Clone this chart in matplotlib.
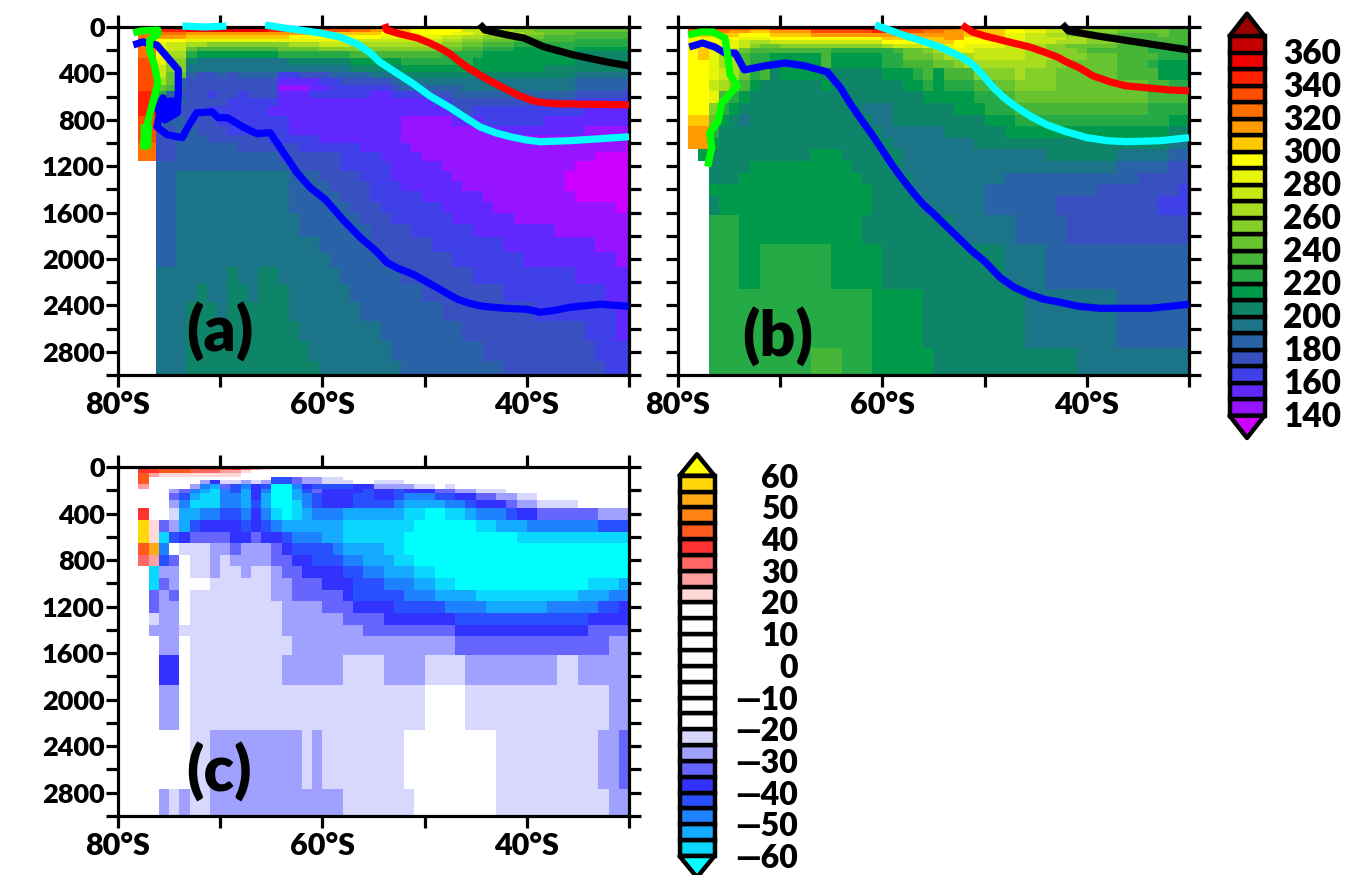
import re
import numpy as np
import matplotlib
matplotlib.use('Agg')
import matplotlib.pyplot as plt
from matplotlib.colors import ListedColormap, BoundaryNorm
from matplotlib.patches import Polygon

plt.rcParams['font.family'] = 'Lato'
plt.rcParams['font.weight'] = 'heavy'

# colour classes, coldest first (first and last are the triangles)
temp_bounds = np.arange(140, 380, 10)
temp_colors = ['#CC00FF', '#9614FF', '#6028FF', '#4040E8', '#3850C0', '#2A62A8', '#1C7488', '#0E8468',
               '#009A4B', '#25AA45', '#47B638', '#68C42E', '#85D028', '#A8DC1E', '#C8E814', '#E6F50A',
               '#FFFF00', '#FFC800', '#FF9A00', '#FF7000', '#FF4D00', '#FF2000', '#F00000', '#C40000', '#9B0000']
temp_labels = [360, 340, 320, 300, 280, 260, 240, 220, 200, 180, 160, 140]

diff_bounds = np.arange(-60, 65, 5)
diff_colors = ['#00FFFF', '#0AD8FF', '#14AAFF', '#1E82FF', '#2850FF', '#3232FF', '#6666FF', '#A0A0FF', '#D8D8FF',
               '#FFFFFF', '#FFFFFF', '#FFFFFF', '#FFFFFF', '#FFFFFF', '#FFFFFF', '#FFFFFF', '#FFFFFF',
               '#FFD8D8', '#FFA0A0', '#FF6666', '#FF3232', '#FF5A1E', '#FF8214', '#FFAA14', '#FFD70A', '#FFFF00']
diff_labels = [60, 50, 40, 30, 20, 10, 0, -10, -20, -30, -40, -50, -60]

# cell edges, depth in m and longitude in degrees (south negative)
a_depth = [0, 15, 40, 70, 100, 130, 170, 210, 270, 325, 385, 440, 500, 550, 610, 685, 770, 855, 930, 1000, 1077,
           1157, 1243, 1330, 1415, 1505, 1600, 1702, 1814, 1943, 2072, 2218, 2373, 2536, 2708, 2880, 3000]
bc_depth = [0, 25, 50, 85, 110, 145, 185, 225, 285, 355, 455, 555, 655, 755, 855, 955, 1055, 1155, 1255, 1355,
            1455, 1617, 1875, 2262, 2770, 3000]
a_lon = [-78] + list(np.arange(-76.3, -30, 1)) + [-30]
b_lon = list(range(-79, -29))
c_lon = list(range(-78, -29))

# fields, one string per depth band: class letter + column where that class stops
# a-y = <140, 140, 150 ... 360, >370
field_a = [
    "v2 w5 x13 w17 v20 u22 t24 s27 r29 q31 p33 o35 n38 m42 l48",
    "u1 v4 w12 v17 u20 t22 s24 r26 q31 o33 n36 m38 l48",
    "t4 s16 r23 q30 p32 o35 n37 m39 l42 k48",
    "t1 s4 r14 q23 p29 o31 n33 m36 l39 k48",
    "u1 q4 p20 o29 n31 m33 l36 k42 j48",
    "t1 p2 o4 n6 m14 n17 o20 n29 m31 l33 k36 j48",
    "t1 q2 o4 l5 k13 l17 m29 l31 k33 j36 i39 j42 i48",
    "t1 q2 n4 j5 i13 j20 k29 j33 i42 h48",
    "u1 p2 m4 h5 g14 h20 i25 j32 i42 h48",
    "u1 o2 m4 g20 h25 i39 h47 g48",
    "u1 o2 l4 f5 e7 f8 e9 f13 d15 e18 f22 g25 h42 g48",
    "u1 n2 l3 f4 e13 c17 d19 e24 f25 g42 f48",
    "u1 l2 k3 f4 e13 b16 c18 d24 e25 f31 g42 f47 e48",
    "v1 j2 f3 e6 d7 e9 d10 e13 c16 d22 c24 d28 e30 f42 e47 d48",
    "v1 h2 g3 f4 e8 d13 c28 d30 e42 d48",
    "v1 f3 e6 d12 c30 e32 d43 c48",
    "u1 f4 e7 d14 c25 b30 c33 d39 c48",
    "u1 e3 f5 e8 d14 c25 b33 c43 b48",
    "u1 e3 f6 e12 d17 c25 b48",
    "t1 e3 f9 e15 d21 c26 b47 a48",
    "t1 e3 f13 e19 d23 c27 b44 a48",
    ".1 f14 e19 d24 c29 b42 a48",
    ".1 f3 g14 f17 e21 d24 c30 b41 a48",
    ".1 f3 g14 f18 e22 d25 c31 b41 a48",
    ".1 f3 g14 f19 e22 d27 c33 b42 a48",
    ".1 f3 g14 f20 e23 d29 c34 b46 a48",
    ".1 f3 g15 f21 e24 d30 c36 b48",
    ".1 f3 g15 f22 e26 d32 c40 b48",
    ".1 f3 g17 f22 e28 d35 c44 b48",
    ".1 f3 g18 f23 e30 d37 c46 b48",
    ".1 g8 h9 g11 h13 g19 f25 e32 d42 c48",
    ".1 g5 h6 g8 h10 g11 h14 g20 f27 e35 d45 c48",
    ".1 g4 h7 g8 h14 g21 f29 e38 d46 c48",
    ".1 g4 h15 g23 f31 e43 d46 c48",
    ".1 g4 h16 g24 f33 e44 d48",
    ".1 g4 h17 g25 f35 e45 d48",
]
field_b = [
    "u6 t8 v12 w20 v22 u24 t26 s27 r31 q33 p35 o37 n39 m42 l46 m47 k49",
    "t4 s6 r8 s12 u18 v20 u23 t25 s27 r31 q33 p35 o37 n39 m42 l47 k49",
    "r5 q8 r12 s27 r31 p33 o35 n37 m40 l42 k46 l47 k49",
    "q5 p8 q19 r25 s27 q31 p33 o37 n39 m42 k49",
    "q3 p5 o6 n8 o19 q23 r26 q31 p33 o36 n39 m42 l45 k49",
    "q4 p5 o6 m7 l9 m19 n20 o23 p26 q27 p31 o33 n35 m37 l42 k45 j49",
    "q1 r2 p3 o5 l6 k14 j20 k21 l23 m24 n25 p28 o33 n35 m38 l39 k45 j49",
    "q1 r2 p3 n5 k6 j8 i13 k14 i19 j21 l24 m25 n28 o33 n36 m39 l42 k46 j49",
    "q2 p3 n5 k6 j8 i13 k14 i19 j21 k24 l26 m27 n35 m37 l42 k45 j46 i49",
    "q2 p3 o4 n5 l6 j7 k8 h9 i13 h19 i22 j23 k24 i25 k28 m32 n33 m36 l42 k46 i49",
    "q2 o3 n4 m5 k6 i7 h13 i14 h21 i23 j24 i25 j28 k30 l32 m36 l45 k47 j49",
    "q2 p3 k4 j5 i6 h23 i28 j31 k32 l45 k49",
    "q2 m3 j4 i5 h17 g20 h26 i29 j32 k45 j49",
    "r2 l3 i4 h5 g6 h18 g20 h29 i32 j47 i49",
    "s2 j3 h19 g25 h31 i47 h49",
    "s2 i3 h20 g28 h47 g49",
    ".1 i2 h12 i15 h21 g35 h42 g47 f49",
    ".2 h6 i16 h21 g42 f47 e49",
    ".2 h5 i17 h22 g31 f44 e49",
    ".2 i18 h22 g29 f40 e48 d49",
    ".2 h3 i18 h23 g29 f36 e46 d49",
    ".2 j5 i17 h26 g32 f37 e49",
    ".2 j5 i7 j14 i19 h31 g35 f49",
    ".2 j18 i23 h33 g42 f49",
    ".2 j12 k15 j18 i24 h38 g49",
]
# a-i = <-60 ... -25, A-I = 20 ... >60, . = inside +-20
field_c = [
    "D1 E5 F6 E9 D10 C11 B12 A13 .48",
    "D2 E5 C8 B10 A11 .48",
    "E1 B2 A10 .48",
    "E1 .13 e15 g16 h18 i20 .48",
    "E1 .6 h7 f8 i10 h11 i12 h13 e15 g16 h18 i21 .23 i26 .48",
    "B1 .5 h6 d7 c8 g9 e10 d11 f12 e13 a15 d16 f17 e21 f23 h27 i29 .30 i31 .48",
    ".3 h4 g5 d6 c7 b8 d9 e10 c11 f12 d13 a15 c16 e17 g18 f22 e23 f25 e26 f29 g31 h33 i36 .48",
    ".3 g4 e5 c6 b8 d10 c11 f12 c13 a15 c16 d17 e18 f21 e23 f25 e26 d29 e31 f33 g35 h37 i39 .48",
    ".3 h4 d5 b8 d10 c11 e12 c13 a15 b16 d17 e18 f21 e25 d26 c30 d32 e33 f36 g37 h39 i43 .48",
    "D1 .3 i4 c6 d8 e10 d11 f12 d13 b14 a15 b16 c17 d20 c26 b28 a30 b32 c33 d36 e37 f39 g45 h48",
    "H1 A2 g3 h4 c5 e6 f10 e11 f12 e13 d14 c20 b27 a33 b35 c38 d45 e48",
    "H1 A2 b3 e4 f5 g9 f11 g12 f14 e15 d18 c20 b26 a37 b48",
    "E1 G2 d3 .4 i7 h9 g10 h13 g14 f15 e19 d20 c24 b26 a48",
    "C1 B2 e3 g4 .5 i7 h8 i9 h13 g15 f17 e20 d22 c25 b27 a48",
    ".1 b2 h4 .5 i7 h8 i10 h11 i13 h14 g16 f20 e22 d24 c27 b29 a48",
    ".1 b2 g3 h4 .7 i13 h15 g18 f21 e24 d27 c29 b31 a44 b47 c48",
    ".1 g2 h3 g4 .5 i13 h15 g20 f21 e26 d29 c33 b43 c46 d48",
    ".1 g2 h4 .5 i14 h18 g21 f25 e30 d34 c40 d45 e47 f48",
    ".1 i2 h4 .5 i14 h20 g24 f31 e44 f48",
    ".1 h4 i14 h22 g31 f44 g48",
    ".2 h4 .5 i15 h31 g46 h48",
    ".2 f4 .5 i14 h20 i24 h28 i32 h41 i43 h48",
    ".2 h4 .5 i28 .32 i46 h48",
    ".5 i7 h16 i17 h18 i26 .35 i45 h47 g48",
    ".2 h3 i4 h5 i7 h20 i27 .35 i46 h48",
]

# contours (lon, depth)
black_a_lon = [-44.6, -44.1, -41.9, -40.3, -38.3, -35.4, -32.2, -30]
black_a_dep = [-25, 26, 69, 95, 172, 241, 301, 335]
red_a_lon = [-53.9, -53.7, -52.4, -50.7, -49.5, -48.5, -47.5, -46.8, -45.6, -44.6, -43.6, -42.3, -40.9, -39.4,
             -38.2, -36.8, -30]
red_a_dep = [-25, 26, 60, 95, 138, 181, 232, 284, 361, 413, 464, 524, 585, 636, 654, 662, 671]
cyan_a1_lon = [-73.7, -71.5, -69.4]
cyan_a1_dep = [-8, 0, -8]
cyan_a2_lon = [-65.6, -63.7, -62.2, -60.2, -58.3, -56.6, -55.3, -54.4, -52.9, -51.1, -49.5, -47.5, -46, -44.6,
               -43.1, -41.6, -40.2, -38.7, -35.8, -32.8, -30]
cyan_a2_dep = [-17, 9, 26, 52, 86, 146, 224, 301, 387, 490, 593, 696, 782, 860, 911, 946, 972, 989, 980, 963, 946]
blue_a_lon = [-78.5, -77.6, -76.2, -74.1, -74.1, -74.2, -75.4, -76.1, -75.6, -76.1, -76.2, -75.2, -73.7, -73.2,
              -72.3, -70.8, -70.2, -69.3, -67.8, -66.4, -65.1, -64, -63.2, -62.5, -61.2, -59.7, -58, -56.3,
              -54.7, -53.7, -52.6, -51.1, -49, -46.8, -45.6, -44.3, -42.1, -40, -38.7, -37.2, -35.8, -32.8, -30]
blue_a_dep = [155, 129, 155, 370, 567, 739, 800, 714, 610, 825, 860, 929, 954, 868,
              739, 731, 782, 782, 860, 920, 911, 1058, 1161, 1255, 1384, 1488, 1660, 1814,
              1935, 2029, 2081, 2132, 2236, 2347, 2382, 2408, 2425, 2433, 2459, 2442, 2416, 2390, 2408]
# the blue contour folds on itself here, it reads as a solid blob
blue_blob_lon = [-75.1, -75.0]
blue_blob_dep = [610, 780]
green_a_lon = [-78.5, -77.8, -76.1, -76.1, -76.9, -76.9, -76.4, -76.1, -76.6, -77.1, -77.2, -77.4]
green_a_dep = [52, 34, 26, 60, 112, 198, 344, 482, 653, 825, 946, 1058]
green_blob_lon = [-77.2, -77.3]
green_blob_dep = [840, 1040]

black_b_lon = [-42.4, -41.8, -39, -35.8, -30]
black_b_dep = [-25, 34, 77, 120, 198]
red_b_lon = [-52.2, -51.2, -50, -48.8, -47.2, -45.6, -44.2, -42.9, -42, -40.7, -39.4, -37.7, -36.2, -34.1, -32, -30]
red_b_dep = [-17, 43, 77, 103, 138, 172, 215, 258, 301, 353, 421, 473, 507, 524, 542, 550]
cyan_b_lon = [-60.7, -59.3, -58, -56.4, -54.4, -53.1, -52.1, -51.1, -50.2, -49.2, -48.2, -47.2, -45.6, -43.9,
              -42, -40, -38, -36.1, -32.8, -30]
cyan_b_dep = [-17, 26, 69, 112, 172, 224, 267, 327, 413, 516, 602, 671, 765, 843, 903, 954, 980, 989, 980, 954]
blue_b_lon = [-78.9, -77.6, -76.4, -75.4, -74.4, -73.5, -71.5, -69.5, -67.6, -65.4, -64.1, -63.2, -62.2, -61,
              -59.9, -59, -58, -57, -56, -54.9, -53.7, -52.4, -51.3, -50, -48.5, -47.1, -45.6, -44.2, -42.6,
              -40.8, -38.7, -33.8, -31.9, -30]
blue_b_dep = [172, 138, 172, 224, 224, 370, 335, 310, 335, 387, 524, 653, 782, 929,
              1075, 1195, 1315, 1427, 1530, 1617, 1720, 1831, 1926, 2020, 2158, 2244, 2304, 2347, 2373,
              2408, 2425, 2425, 2408, 2390]
green_b_lon = [-79, -77.8, -76.6, -75.4, -75.1, -74.9, -74.2, -75.7, -76.1, -76.9, -76.7, -77.1]
green_b_dep = [69, 43, 43, 95, 267, 413, 507, 653, 817, 911, 1040, 1204]


def temp_value(ch):
    if ch == '.':
        return np.nan
    return 135 + 10 * (ord(ch) - ord('a'))


def diff_value(ch):
    if ch == '.':
        return 0
    if ch.islower():
        return -62.5 + 5 * (ord(ch) - ord('a'))
    return 22.5 + 5 * (ord(ch) - ord('A'))


def decode(rows, ncol, value):
    out = np.full((len(rows), ncol), np.nan)
    for i, row in enumerate(rows):
        start = 0
        for ch, end in re.findall(r'([a-zA-Z.])(\d+)', row):
            out[i, start:int(end)] = value(ch)
            start = int(end)
    return out


W, H = 1346, 875
fig = plt.figure(figsize=(W / 100, H / 100), dpi=100)


def px_axes(left, top, right, bottom):
    return fig.add_axes([left / W, 1 - bottom / H, (right - left) / W, (bottom - top) / H])


def style_panel(ax, ylabels=True):
    ax.set_xlim(-80, -30)
    ax.set_ylim(3000, 0)
    for s in ax.spines.values():
        s.set_linewidth(2.3)
    ax.set_xticks([-80, -70, -60, -50, -40, -30])
    ax.set_xticklabels(['80°S', '', '60°S', '', '40°S', ''], fontsize=22)
    ticks = np.arange(0, 3200, 200)
    ax.set_yticks(ticks)
    if ylabels:
        ax.set_yticklabels([str(d) if d % 400 == 0 and d < 3000 else '' for d in ticks], fontsize=19.5)
    else:
        ax.set_yticklabels([])
    ax.tick_params(axis='both', which='major', direction='out', length=8.5, width=2.3,
                   top=True, right=True, pad=1)
    ax.tick_params(axis='x', pad=3)


def contour(ax, lon, dep, color, lw=5.2):
    ax.plot(lon, dep, color=color, lw=lw, clip_on=False, zorder=4, solid_capstyle='butt', solid_joinstyle='round')


temp_cmap = ListedColormap(temp_colors)
temp_norm = BoundaryNorm(temp_bounds, ncolors=len(temp_colors), extend='both')
diff_cmap = ListedColormap(diff_colors)
diff_norm = BoundaryNorm(diff_bounds, ncolors=len(diff_colors), extend='both')

# (a)
ax1 = px_axes(118, 27, 629, 375)
ax1.pcolormesh(a_lon, a_depth, decode(field_a, 48, temp_value), cmap=temp_cmap, norm=temp_norm, antialiased=False)
style_panel(ax1)
contour(ax1, black_a_lon, black_a_dep, 'black')
contour(ax1, red_a_lon, red_a_dep, '#FF0000')
contour(ax1, cyan_a1_lon, cyan_a1_dep, '#00FFFF')
contour(ax1, cyan_a2_lon, cyan_a2_dep, '#00FFFF')
contour(ax1, blue_a_lon, blue_a_dep, '#0000FF')
contour(ax1, blue_blob_lon, blue_blob_dep, '#0000FF', lw=12)
contour(ax1, green_a_lon, green_a_dep, '#00FF00')
contour(ax1, green_blob_lon, green_blob_dep, '#00FF00', lw=8)
ax1.text(-70, 2630, '(a)', fontsize=45, ha='center', va='center', zorder=5)

# (b)
ax2 = px_axes(678, 27, 1189, 375)
ax2.pcolormesh(b_lon, bc_depth, decode(field_b, 49, temp_value), cmap=temp_cmap, norm=temp_norm, antialiased=False)
style_panel(ax2, ylabels=False)
contour(ax2, black_b_lon, black_b_dep, 'black')
contour(ax2, red_b_lon, red_b_dep, '#FF0000')
contour(ax2, cyan_b_lon, cyan_b_dep, '#00FFFF')
contour(ax2, blue_b_lon, blue_b_dep, '#0000FF')
contour(ax2, green_b_lon, green_b_dep, '#00FF00')
ax2.text(-70.2, 2674, '(b)', fontsize=45, ha='center', va='center', zorder=5)

# (c)
ax3 = px_axes(118, 467, 629, 816)
ax3.pcolormesh(c_lon, bc_depth, decode(field_c, 48, diff_value), cmap=diff_cmap, norm=diff_norm, antialiased=False)
style_panel(ax3)
ax3.text(-70.1, 2623, '(c)', fontsize=45, ha='center', va='center', zorder=5)


def colorbar(left, right, top, bottom, v_top, py_top, v_bot, py_bot, step, colors, labels, label_right, fs, nudge=0):
    # one box per class, the ends are triangles
    cax = px_axes(left, top, right, bottom)
    cax.axis('off')
    per_px = (v_top - v_bot) / (py_bot - py_top)
    cax.set_xlim(0, right - left)
    cax.set_ylim(v_bot - (bottom - py_bot) * per_px, v_top + (py_top - top) * per_px)
    w = right - left
    for i, c in enumerate(colors[1:-1]):
        cax.bar(w / 2, step, bottom=v_bot + i * step, width=w - 5, color=c, edgecolor='black',
                linewidth=3.2, align='center', clip_on=False)
    tip = step * 1.35
    low = Polygon([[2.5, v_bot], [w / 2, v_bot - tip], [w - 2.5, v_bot]], closed=True, facecolor=colors[0],
                  edgecolor='black', linewidth=3.2, joinstyle='round', clip_on=False)
    high = Polygon([[2.5, v_top + step], [w / 2, v_top + step + tip], [w - 2.5, v_top + step]], closed=True,
                   facecolor=colors[-1], edgecolor='black', linewidth=3.2, joinstyle='round', clip_on=False)
    cax.add_patch(low)
    cax.add_patch(high)
    for v in labels:
        cax.text(label_right - left, v + nudge * per_px, str(v).replace('-', '\u2014'), ha='right',
                 va='center_baseline', fontsize=fs, clip_on=False)


colorbar(1227, 1267, 8, 442, 360, 52.5, 140, 415.7, 10, temp_colors, temp_labels, 1341, 24, nudge=2)
colorbar(677, 717, 448, 875, 55, 491.5, -60, 856, 5, diff_colors, diff_labels, 798, 23)

fig.savefig('out.png', dpi=100)
